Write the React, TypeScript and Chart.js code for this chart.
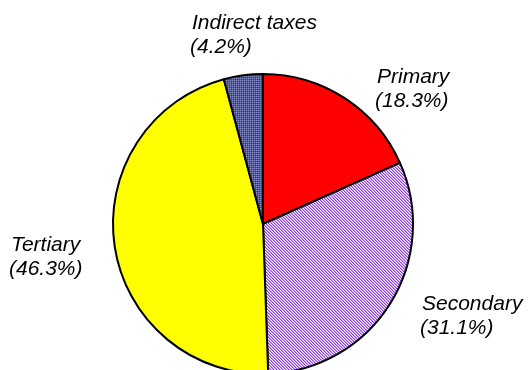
import React, { useEffect, useRef } from "react";
import { Chart, registerables } from "chart.js";

Chart.register(...registerables);

const categories = ["Primary", "Secondary", "Tertiary", "Indirect taxes"];
const shares = [18.3, 31.1, 46.3, 4.2];
const labelLines = [
  ["Primary", "(18.3%)"],
  ["Secondary", "(31.1%)"],
  ["Tertiary", "(46.3%)"],
  ["Indirect taxes", "(4.2%)"],
];
const labelAnchors = [
  [377, 83],
  [422, 310],
  [11, 251],
  [192, 29],
];

function makeHatch(): CanvasPattern | string {
  const c = document.createElement("canvas");
  c.width = 3;
  c.height = 3;
  const g = c.getContext("2d");
  if (!g) return "#b080f0";
  for (let y = 0; y < 3; y++) {
    for (let x = 0; x < 3; x++) {
      const k = (((x - y) % 3) + 3) % 3;
      g.fillStyle = k === 0 ? "#9933ff" : k === 1 ? "#c89cff" : "#ffffff";
      g.fillRect(x, y, 1, 1);
    }
  }
  return g.createPattern(c, "repeat") as CanvasPattern;
}

function makeDots(): CanvasPattern | string {
  const c = document.createElement("canvas");
  c.width = 2;
  c.height = 2;
  const g = c.getContext("2d");
  if (!g) return "#6666cc";
  g.fillStyle = "#5050c0";
  g.fillRect(0, 0, 2, 2);
  g.fillStyle = "#8c8cc8";
  g.fillRect(0, 0, 1, 1);
  g.fillStyle = "#353598";
  g.fillRect(1, 1, 1, 1);
  return g.createPattern(c, "repeat") as CanvasPattern;
}

const labelPlugin = {
  id: "sliceLabels",
  afterDraw(chart: any) {
    const ctx = chart.ctx as CanvasRenderingContext2D;
    ctx.save();
    ctx.font = 'italic 21px "Liberation Sans", Arial, sans-serif';
    ctx.fillStyle = "#000000";
    ctx.textAlign = "left";
    ctx.textBaseline = "alphabetic";
    labelLines.forEach((lines, i) => {
      const [x, y] = labelAnchors[i];
      lines.forEach((t, j) => ctx.fillText(t, x - (j === 1 ? 2 : 0), y + j * 24));
    });
    ctx.restore();
  },
};

export default function App() {
  const ref = useRef<HTMLCanvasElement | null>(null);
  useEffect(() => {
    if (!ref.current) return;
    const chart = new Chart(ref.current, {
      type: "pie",
      data: {
        labels: categories,
        datasets: [
          {
            data: shares,
            backgroundColor: ["#ff0000", makeHatch(), "#ffff00", makeDots()],
            borderColor: "#000000",
            borderWidth: 2,
            hoverBorderWidth: 2,
          },
        ],
      },
      options: {
        responsive: false,
        animation: false,
        devicePixelRatio: 1,
        layout: { padding: { left: 112, right: 114, top: 73, bottom: 5 } },
        plugins: {
          legend: { display: false },
          tooltip: { enabled: false },
        },
      },
      plugins: [labelPlugin],
    });
    return () => chart.destroy();
  }, []);
  return (
    <div
      style={{
        position: "fixed",
        left: 0,
        top: 0,
        width: 528,
        height: 370,
        overflow: "hidden",
        background: "#ffffff",
      }}
    >
      <canvas ref={ref} width={528} height={380} style={{ display: "block" }} />
    </div>
  );
}
